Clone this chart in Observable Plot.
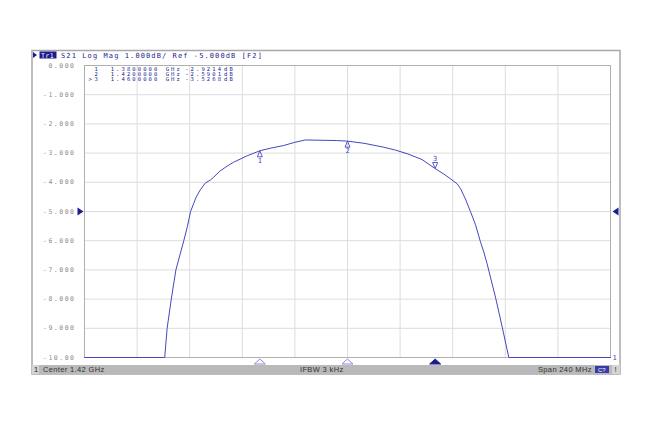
<!DOCTYPE html>
<html><head><meta charset="utf-8">
<script src="https://cdn.jsdelivr.net/npm/d3@7"></script>
<script src="https://cdn.jsdelivr.net/npm/@observablehq/plot@0.6"></script>
<style>
body{margin:0;background:#fff}
svg{display:block}
</style>
</head><body><div id="chart"></div>
<script>
// ---- data ----
const freqGHz = [1.3000,1.3366,1.3377,1.3396,1.3417,1.3453,1.3470,1.3484,1.3510,1.3529,1.3552,1.3575,1.3590,1.3617,1.3650,1.3681,1.3740,1.3800,1.3850,1.3909,1.3960,1.4008,1.4080,1.4150,1.4200,1.4280,1.4366,1.4420,1.4472,1.4540,1.4600,1.4640,1.4670,1.4700,1.4716,1.4738,1.4761,1.4784,1.4807,1.4822,1.4837,1.4875,1.4906,1.4936,1.5400];
const s21dB   = [-10,-10,-9.0,-8.0,-7.0,-6.0,-5.5,-5.0,-4.5,-4.25,-4.02,-3.92,-3.82,-3.62,-3.45,-3.31,-3.10,-2.92,-2.83,-2.74,-2.63,-2.55,-2.56,-2.57,-2.59,-2.67,-2.80,-2.90,-3.02,-3.22,-3.53,-3.72,-3.88,-4.05,-4.22,-4.57,-5.00,-5.45,-6.05,-6.39,-6.79,-7.93,-8.96,-10,-10];
const markerIds = ["1","2","3"];
const markerFreq = [1.38, 1.42, 1.46];
const markerDb = [-2.9214, -2.5901, -3.5268];
const activeMarker = "3";
const yTicks = [0,-1,-2,-3,-4,-5,-6,-7,-8,-9,-10];
const yTickLabels = ["0.000","-1.000","-2.000","-3.000","-4.000","-5.000","-6.000","-7.000","-8.000","-9.000","-10.00"];
const xGridGHz = [1.300,1.324,1.348,1.372,1.396,1.420,1.444,1.468,1.492,1.516,1.540];
const refLevel = -5;
const traceLabel = "Tr1";
const headerText = "S21 Log Mag 1.000dB/ Ref -5.000dB [F2]";
const statusChannel = "1";
const statusLeft = "Center 1.42 GHz";
const statusMid = "IFBW 3 kHz";
const statusRight = "Span 240 MHz";
const statusBox = "C?";

// ---- styling ----
const traceColor = "#4646c2";
const darkBlue = "#1c1c8e";
const gridColor = "#dcdcdc";
const mono = "'DejaVu Sans Mono', monospace";

const pts = freqGHz.map((f,i)=>({f, db:s21dB[i]}));
const markers = markerIds.map((id,i)=>({id, f:markerFreq[i], db:markerDb[i], active:id===activeMarker}));

function flatTri(w, h, dir){
  return {draw(ctx){
    if(dir==="up"){ctx.moveTo(0,-h/2);ctx.lineTo(w/2,h/2);ctx.lineTo(-w/2,h/2);}
    else if(dir==="down"){ctx.moveTo(0,h/2);ctx.lineTo(w/2,-h/2);ctx.lineTo(-w/2,-h/2);}
    else if(dir==="right"){ctx.moveTo(h/2,0);ctx.lineTo(-h/2,-w/2);ctx.lineTo(-h/2,w/2);}
    else {ctx.moveTo(-h/2,0);ctx.lineTo(h/2,-w/2);ctx.lineTo(h/2,w/2);}
    ctx.closePath();
  }};
}

const plot = Plot.plot({
  width: 653, height: 435,
  marginLeft: 84, marginRight: 43, marginTop: 65, marginBottom: 78,
  x: {domain: [1.30, 1.54], axis: null},
  y: {domain: [-10, 0], axis: null},
  style: {fontFamily: mono, background: "#fff"},
  marks: [
    Plot.gridX(xGridGHz, {stroke: gridColor, strokeOpacity: 1}),
    Plot.gridY(yTicks, {stroke: gridColor, strokeOpacity: 1}),
    Plot.frame({stroke: "#b0b0b0"}),
    Plot.axisY(yTicks, {tickSize: 0, tickPadding: 9, label: null,
      tickFormat: d => yTickLabels[yTicks.indexOf(d)], fill: "#8c8c8c", fontSize: 6.5}),
    Plot.line(pts, {x: "f", y: "db", stroke: traceColor, strokeWidth: 1}),
    Plot.dot(markers.filter(m=>!m.active), {x:"f", y:"db", symbol: flatTri(5,6,"up"), dy: 3, stroke: traceColor, fill: "none", strokeWidth: 0.9}),
    Plot.text(markers.filter(m=>!m.active), {x:"f", y:"db", text:"id", dy: 9.5, fill: traceColor, fontSize: 7}),
    Plot.dot(markers.filter(m=>m.active), {x:"f", y:"db", symbol: flatTri(5,6,"down"), dy: -3, stroke: traceColor, fill: "none", strokeWidth: 0.9}),
    Plot.text(markers.filter(m=>m.active), {x:"f", y:"db", text:"id", dy: -10, fill: traceColor, fontSize: 7}),
    Plot.dot(markers, {x:"f", y: -10, dy: 4, symbol: flatTri(11,5,"up"),
      stroke: d => d.active ? darkBlue : "#8a8ad6", fill: d => d.active ? darkBlue : "#fff", strokeWidth: 1}),
    Plot.dot([1.30], {x: d=>d, y: refLevel, dx: -4, symbol: flatTri(8,6,"right"), fill: darkBlue}),
    Plot.dot([1.54], {x: d=>d, y: refLevel, dx: 5, symbol: flatTri(8,6,"left"), fill: darkBlue}),
    Plot.text([1.54], {x: d=>d, y: -10, dx: 2, text: ()=>traceLabel.slice(-1), fill: traceColor, fontSize: 7, textAnchor: "start"})
  ]
});

document.getElementById("chart").appendChild(plot);
const svg = d3.select(plot);
svg.selectAll('g[aria-label="y-axis tick label"] text').style("letter-spacing","1.5px");

svg.insert("rect", ":first-child")
  .attr("x", 32).attr("y", 50.5).attr("width", 588).attr("height", 323.5)
  .attr("fill", "#fff").attr("stroke", "#a8a8a8").attr("stroke-width", 1.5);

// header
const hdr = svg.append("g").style("font-family", mono).attr("text-anchor", "start");
hdr.append("path").attr("d", "M33,52 L37,55 L33,58 Z").attr("fill", darkBlue);
hdr.append("rect").attr("x", 39.5).attr("y", 51.5).attr("width", 17).attr("height", 7).attr("fill", darkBlue);
hdr.append("text").attr("x", 41).attr("y", 57.6).attr("fill", "#fff").attr("font-size", 6.5).style("letter-spacing","0.4px").text(traceLabel);
hdr.append("text").attr("x", 61).attr("y", 57.8).attr("fill", darkBlue).attr("font-size", 7).style("letter-spacing", "1.1px").text(headerText);

// marker table
const tbl = svg.append("g").style("font-family", mono).attr("text-anchor", "start").attr("fill", darkBlue).attr("font-size", 5.5);
markers.forEach((m, i) => {
  const y = 70.6 + i * 5.3;
  const t = (x, s) => tbl.append("text").attr("x", x).attr("y", y).style("letter-spacing", "2.1px").text(s);
  if (m.active) t(88.5, ">");
  t(94.5, m.id);
  t(110.7, m.f.toFixed(7));
  t(165.7, "GHz");
  t(185.2, m.db.toFixed(4));
  t(224, "dB");
});

// status bar
const sb = svg.append("g").style("font-family", "'Liberation Sans', Arial, sans-serif").attr("text-anchor", "start").attr("font-size", 7.5);
sb.append("rect").attr("x", 32).attr("y", 365).attr("width", 588).attr("height", 9).attr("fill", "#b9b9b9");
sb.append("rect").attr("x", 32).attr("y", 365).attr("width", 7).attr("height", 9).attr("fill", "#d4d4d4");
sb.append("text").attr("x", 34).attr("y", 372.3).attr("fill", "#222").text(statusChannel);
sb.append("text").attr("x", 43).attr("y", 372.3).attr("fill", "#333").style("letter-spacing","0.35px").text(statusLeft);
sb.append("text").attr("x", 300).attr("y", 372.3).attr("fill", "#333").style("letter-spacing","0.35px").text(statusMid);
sb.append("text").attr("x", 538).attr("y", 372.3).attr("fill", "#333").style("letter-spacing","0.35px").text(statusRight);
sb.append("rect").attr("x", 595).attr("y", 366).attr("width", 14).attr("height", 7).attr("fill", "#3a3aa8");
sb.append("text").attr("x", 598).attr("y", 372).attr("fill", "#fff").attr("font-size", 6).text(statusBox);
sb.append("rect").attr("x", 612).attr("y", 365).attr("width", 8).attr("height", 9).attr("fill", "#d4d4d4");
sb.append("text").attr("x", 614.5).attr("y", 372.3).attr("fill", "#333").text("!");
</script>
</body></html>
